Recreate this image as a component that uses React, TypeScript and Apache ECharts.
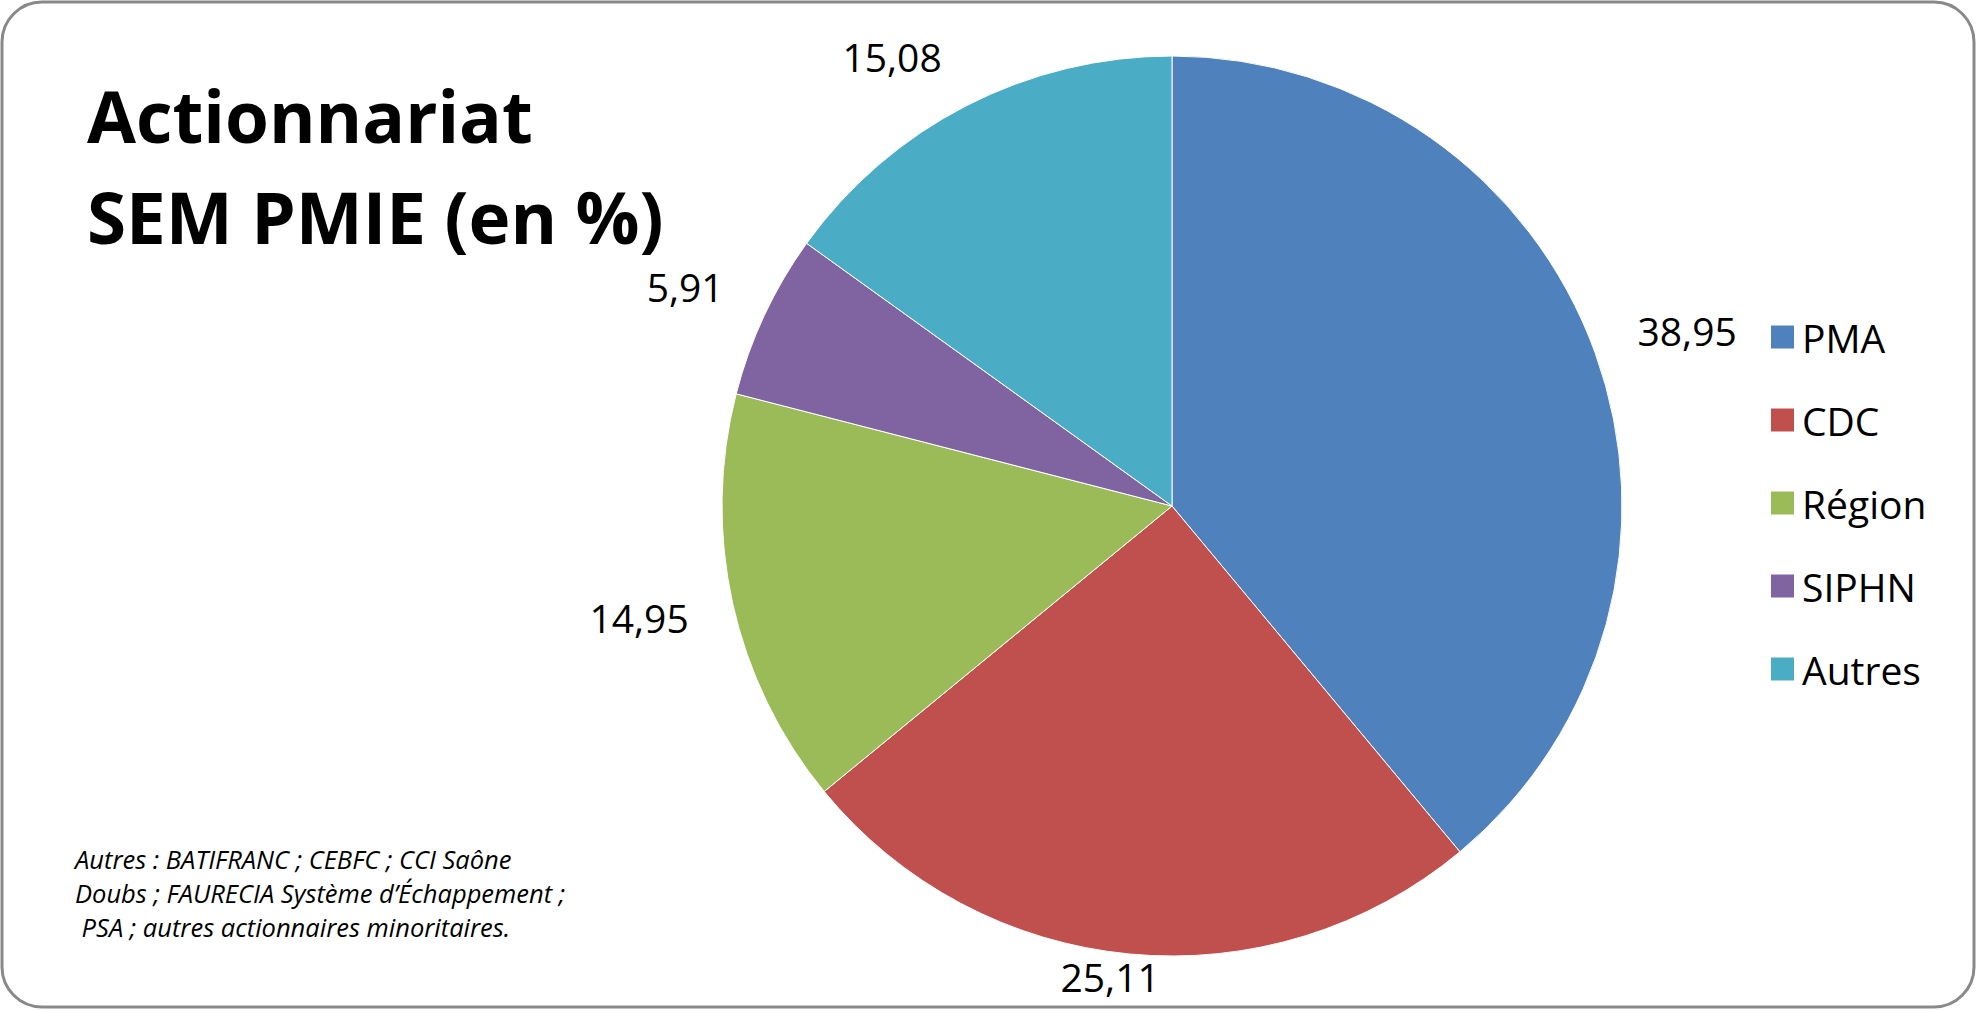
import React, { useEffect, useRef } from "react";
import * as echarts from "echarts";

const categories = ["PMA", "CDC", "Région", "SIPHN", "Autres"];
const values = [38.95, 25.11, 14.95, 5.91, 15.08];
const colors = ["#4F81BD", "#C0504D", "#9BBB59", "#8064A2", "#4BACC6"];
const titleLines = ["Actionnariat", "SEM PMIE (en %)"];
const noteLines = [
  "Autres : BATIFRANC ; CEBFC ; CCI Saône",
  "Doubs ; FAURECIA Système d’Échappement ;",
  " PSA ; autres actionnaires minoritaires.",
];

const W = 1977;
const H = 1010;
const CX = 1172;
const CY = 506;
const R = 450;
const FONT = "'Open Sans', 'DejaVu Sans', sans-serif";

export default function App() {
  const ref = useRef<HTMLDivElement>(null);
  useEffect(() => {
    if (!ref.current) return;
    document.body.style.margin = "0";
    const chart = echarts.init(ref.current, undefined, { renderer: "svg", width: W, height: H });
    const total = values.reduce((a, b) => a + b, 0);
    const option: any = {
      animation: false,
      backgroundColor: "#ffffff",
      color: colors,
      legend: {
        orient: "vertical",
        left: 1764,
        top: 312,
        icon: "rect",
        itemWidth: 25,
        itemHeight: 25,
        itemGap: 43,
        selectedMode: false,
        data: categories,
        textStyle: {
          fontFamily: FONT,
          fontSize: 39,
          lineHeight: 40,
          color: "#000",
          padding: [0, 0, 0, 2],
        },
      },
      graphic: [
        {
          type: "rect",
          z: 100,
          silent: true,
          shape: { x: 2, y: 2, width: W - 5, height: H - 5, r: 40 },
          style: { fill: "none", stroke: "#898989", lineWidth: 3 },
        },
        {
          type: "text",
          left: 87,
          top: 65,
          style: {
            text: titleLines.join("\n"),
            fontFamily: FONT,
            fontWeight: "bold",
            fontSize: 71,
            lineHeight: 101,
            fill: "#000",
          },
        },
        {
          type: "text",
          left: 75,
          top: 842,
          style: {
            text: noteLines.join("\n"),
            fontFamily: FONT,
            fontStyle: "italic",
            fontSize: 25.5,
            lineHeight: 34,
            fill: "#000",
          },
        },
      ],
      series: [
        {
          type: "pie",
          center: [CX, CY],
          radius: R,
          startAngle: 90,
          clockwise: true,
          avoidLabelOverlap: false,
          itemStyle: { borderColor: "#ffffff", borderWidth: 1 },
          label: {
            show: true,
            position: "outside",
            fontFamily: FONT,
            fontSize: 39,
            lineHeight: 44,
            color: "#000",
            formatter: (p: any) => Number(p.value).toFixed(2).replace(".", ","),
          },
          labelLine: { show: false, length: 0, length2: 0 },
          labelLayout: (p: any) => {
            const i = p.dataIndex;
            let cum = 0;
            for (let k = 0; k < i; k++) cum += values[k];
            cum += values[i] / 2;
            const th = (cum / total) * Math.PI * 2;
            const ux = Math.sin(th);
            const uy = -Math.cos(th);
            const w = p.labelRect.width;
            const h = p.labelRect.height;
            const D = 45 * Math.min(1, 1.6 * Math.abs(ux));
            const g = Math.sign(ux) * Math.min(1, 4 * Math.abs(ux));
            const x = CX + ux * (R + D) + (w / 2) * g - (ux < -0.3 && uy < -0.8 ? 10 : 0);
            let y = CY + uy * (R + D) + (h / 2) * uy;
            y = Math.min(y, H - 12 - h / 2);
            return { x, y, align: "center", verticalAlign: "middle" };
          },
          data: categories.map((name, i) => ({ name, value: values[i] })),
        },
      ],
    };
    chart.setOption(option);
    return () => chart.dispose();
  }, []);
  return <div ref={ref} style={{ width: W, height: H }} />;
}
